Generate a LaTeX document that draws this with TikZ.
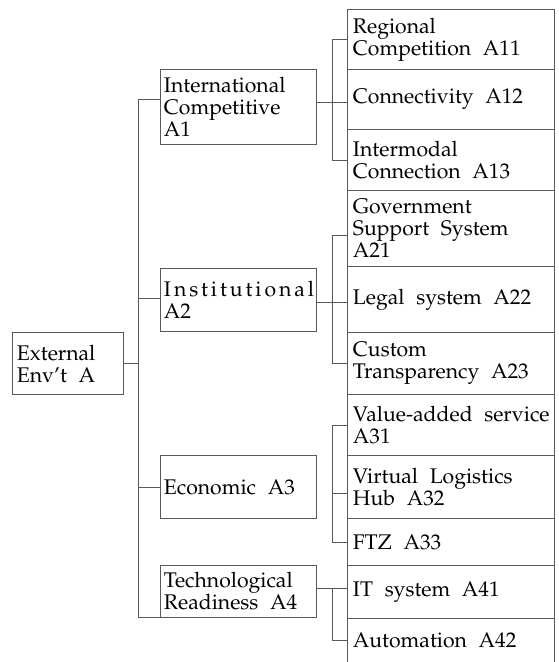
\documentclass[tikz,border=0pt]{standalone}
\usepackage[T1]{fontenc}
\usepackage{mathpazo}
\definecolor{rulegray}{gray}{0.35}
\newcommand\cellfont{\fontsize{21.2pt}{22pt}\selectfont}

\begin{document}
\begin{tikzpicture}[x=1pt,y=-1pt,
  cell/.style={draw=rulegray, line width=0.9pt, inner xsep=4pt, inner ysep=0pt,
    align=left, anchor=north west, font=\cellfont,
    execute at begin node={\spaceskip=0.55em plus 0.1em\relax\hbadness=10000\hfuzz=20pt},
  },
  midcell/.style={cell, inner xsep=3.5pt, minimum width=156pt, text width=149pt},
  leafcell/.style={cell, inner xsep=5.5pt, minimum width=207pt, text width=196pt},
  link/.style={draw=rulegray, line width=0.9pt},
]
\useasboundingbox (0,0) rectangle (559,662);

% root
\node[cell, inner xsep=4.5pt, minimum width=111pt, minimum height=62pt, text width=102pt] (ext) at (12,332) {External\\Env't A};

% first level
\node[midcell, minimum height=75pt] (a1) at (160,69) {International\\Competitive\\A1};
\node[midcell, minimum height=63pt] (a2) at (160,268)
  {\makebox[150pt][s]{I\hfil n\hfil s\hfil t\hfil i\hfil t\hfil u\hfil t\hfil i\hfil o\hfil n\hfil a\hfil l}\\A2};
\node[midcell, minimum height=63pt] (a3) at (160,455) {Economic A3};
\node[midcell, minimum height=52pt] (a4) at (160,565) {Technological\\Readiness A4};

% second level
\node[leafcell, minimum height=60pt] (a11) at (347,9)   {Regional\\Competition A11};
\node[leafcell, minimum height=60pt] (a12) at (347,69)  {Connectivity A12};
\node[leafcell, minimum height=61pt] (a13) at (347,129) {Intermodal\\Connection A13};
\node[leafcell, minimum height=76pt] (a21) at (347,190) {Government\\Support System\\A21};
\node[leafcell, minimum height=66pt] (a22) at (347,266) {Legal system A22};
\node[leafcell, minimum height=62pt] (a23) at (347,332) {Custom\\Transparency A23};
\node[leafcell, minimum height=61pt] (a31) at (347,394) {\mbox{Value-added service}\\A31};
\node[leafcell, minimum height=63pt] (a32) at (347,455) {Virtual Logistics\\Hub A32};
\node[leafcell, minimum height=47pt] (a33) at (347,518) {FTZ A33};
\node[leafcell, minimum height=53pt] (a41) at (347,565) {IT system A41};
\node[leafcell, minimum height=44pt, draw=none] (a42) at (347,618) {Automation A42};
\draw[link] (a42.south west) -- (a42.north west) -- (a42.north east) -- (a42.south east);

% spine from the root to the first level
\coordinate (s1) at (138,99);
\coordinate (s4) at (138,617);
\draw[link] (s1) -- (s4);
\draw[link] (ext.east) -- (ext.east -| s1);
\draw[link] (s1) -- (s1 -| a1.west);
\draw[link] (a2.west |- 0,298) -- (s1 |- 0,298);
\draw[link] (a3.west) -- (a3.west -| s1);
\draw[link] (a4.south west) -- (a4.south west -| s1);

% brackets from the first level to the second level
\coordinate (h1) at (332,102);
\draw[link] (h1 -| a1.east) -- (h1 -| a12.west);
\draw[link] (a11.west) -- (a11.west -| h1) -- (a13.west -| h1) -- (a13.west);

\coordinate (h2) at (332,302);
\draw[link] (h2 -| a2.east) -- (h2 -| a22.west);
\draw[link] (a21.west) ++(0,7) -- ++(-15,0) |- (a23.west);

\draw[link] (a31.west) -- (a31.west -| h1) -- (a33.west -| h1) -- (a33.west);
\draw[link] (a32.west) ++(0,6) -- ++(-15,0);

\coordinate (h4) at (332,588);
\draw[link] (h4 -| a4.east) -- (h4 -| a41.west);
\draw[link] (h4) |- (a42.west);
\end{tikzpicture}
\end{document}
